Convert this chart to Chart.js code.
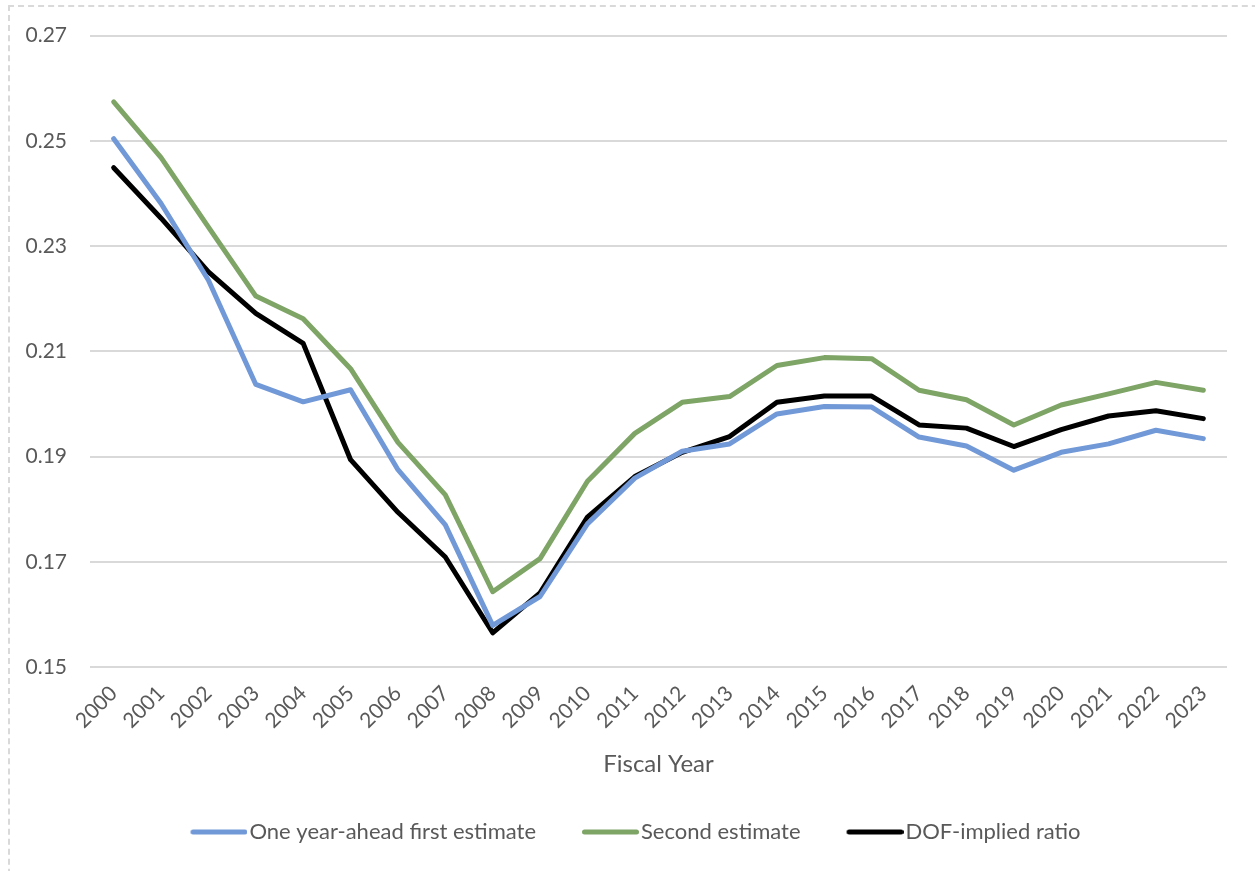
<!DOCTYPE html>
<html>
<head>
<meta charset="utf-8">
<script src="https://cdn.jsdelivr.net/npm/chart.js@4.4.0/dist/chart.umd.min.js"></script>
<style>
  html, body { margin: 0; padding: 0; background: #fff; }
  #wrap { position: relative; width: 1255px; height: 871px; overflow: hidden; }
  #frame { position: absolute; left: 8px; top: 5px; width: 1300px; height: 900px;
           border: 2px dashed #d9d9d9; box-sizing: border-box; }
  #myChart { position: absolute; left: 0; top: 0; }
</style>
</head>
<body>
<div id="wrap">
  <div id="frame"></div>
  <canvas id="myChart" width="1255" height="871"></canvas>
</div>
<script>
const years = ['2000', '2001', '2002', '2003', '2004', '2005', '2006', '2007', '2008', '2009', '2010', '2011',
               '2012', '2013', '2014', '2015', '2016', '2017', '2018', '2019', '2020', '2021', '2022', '2023'];

// One year-ahead first estimate (blue)
const firstEstimate = [0.2504, 0.2381, 0.2235, 0.2037, 0.2004, 0.2027, 0.1875, 0.1770, 0.1579, 0.1634, 0.1772, 0.1859,
                       0.1910, 0.1924, 0.1981, 0.1995, 0.1994, 0.1937, 0.1920, 0.1874, 0.1908, 0.1924, 0.1950, 0.1934];

// Second estimate (green)
const secondEstimate = [0.2574, 0.2468, 0.2336, 0.2205, 0.2162, 0.2067, 0.1927, 0.1827, 0.1643, 0.1706, 0.1853, 0.1944,
                        0.2003, 0.2014, 0.2073, 0.2088, 0.2086, 0.2026, 0.2008, 0.1960, 0.1998, 0.2019, 0.2041, 0.2026];

// DOF-implied ratio (black)
const dofRatio = [0.2449, 0.2353, 0.2251, 0.2172, 0.2115, 0.1894, 0.1794, 0.1709, 0.1565, 0.1641, 0.1785, 0.1862,
                  0.1908, 0.1938, 0.2003, 0.2015, 0.2015, 0.1960, 0.1954, 0.1919, 0.1951, 0.1977, 0.1987, 0.1972];

const yTicks = [0.15, 0.17, 0.19, 0.21, 0.23, 0.25, 0.27];

const textColor = '#595959';
const fontFamily = 'Lato, "Noto Sans", sans-serif';
const padLeft = 22;

// legend swatch: short thick line sitting right next to the label text
function legendLine(color) {
    const c = document.createElement('canvas');
    c.width = 88;
    c.height = 10;
    const g = c.getContext('2d');
    g.strokeStyle = color;
    g.lineWidth = 5;
    g.lineCap = 'round';
    g.beginPath();
    g.moveTo(33.5, 5);
    g.lineTo(85.5, 5);
    g.stroke();
    return c;
}

function lineSet(label, values, color) {
    return {
        label: label,
        data: values,
        borderColor: color,
        backgroundColor: color,
        borderWidth: 5,
        borderCapStyle: 'round',
        borderJoinStyle: 'round',
        pointRadius: 0,
        pointHoverRadius: 0,
        pointStyle: legendLine(color),
        tension: 0,
        fill: false
    };
}

const data = {
    labels: years,
    datasets: [
        lineSet('One year-ahead first estimate', firstEstimate, '#7198d7'),
        lineSet('Second estimate', secondEstimate, '#7ea466'),
        lineSet('DOF-implied ratio', dofRatio, '#000000')
    ]
};

const config = {
    type: 'line',
    data: data,
    options: {
        responsive: false,
        animation: false,
        layout: {
            padding: { left: padLeft, right: 28, top: 34, bottom: 18 }
        },
        plugins: {
            legend: {
                position: 'bottom',
                labels: {
                    usePointStyle: true,
                    pointStyleWidth: 70,
                    padding: 24,
                    color: textColor,
                    font: { family: fontFamily, size: 22 }
                }
            },
            tooltip: { enabled: false }
        },
        scales: {
            x: {
                type: 'category',
                offset: true,
                grid: { display: false },
                border: { display: false },
                ticks: {
                    minRotation: 45,
                    maxRotation: 45,
                    autoSkip: false,
                    padding: 6,
                    color: textColor,
                    font: { family: fontFamily, size: 21 }
                },
                title: {
                    display: true,
                    text: 'Fiscal Year',
                    color: textColor,
                    font: { family: fontFamily, size: 24 },
                    padding: { top: 10, bottom: 18 }
                },
                afterFit: function(scale) {
                    scale.height = 130;
                }
            },
            y: {
                min: 0.15,
                max: 0.27,
                afterBuildTicks: function(scale) {
                    scale.ticks = yTicks.map(v => ({ value: v }));
                },
                grid: {
                    color: '#d9d9d9',
                    lineWidth: 2,
                    drawTicks: false
                },
                border: { display: false },
                ticks: {
                    padding: 23,
                    color: textColor,
                    font: { family: fontFamily, size: 21 },
                    callback: function(value) {
                        return value.toFixed(2);
                    }
                },
                afterFit: function(scale) {
                    scale.width = 90 - padLeft;
                }
            }
        }
    }
};

const myChart = new Chart(document.getElementById('myChart').getContext('2d'), config);
</script>
</body>
</html>
